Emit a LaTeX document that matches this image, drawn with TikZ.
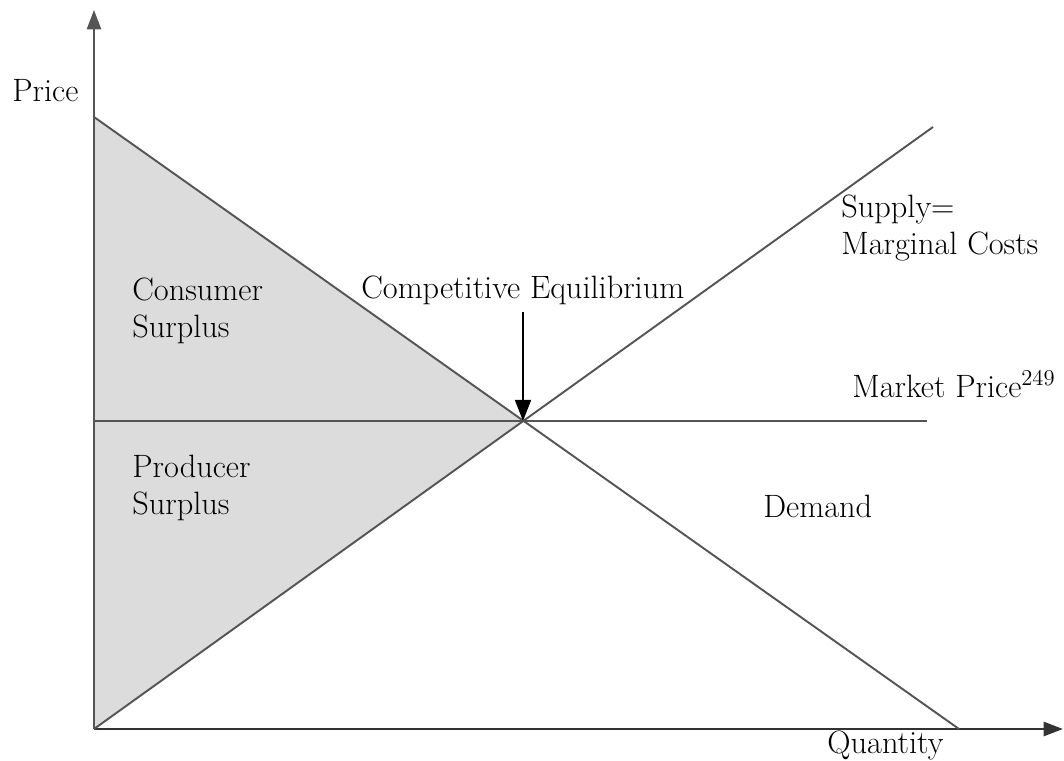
\documentclass[tikz,border=0pt]{standalone}
\usepackage{tikz}
\usetikzlibrary{arrows.meta}
\definecolor{surplusgray}{RGB}{220,220,220}
\definecolor{linegray}{RGB}{85,85,85}
\newcommand{\twolines}[2]{\begin{tabular}[t]{@{}l@{}}#1\\#2\end{tabular}}
\tikzset{every edge/.style={draw,linegray,line width=1.1pt}}
\tikzstyle{axis}=[draw=linegray,line width=1.4pt,-{Triangle[length=11pt,width=8pt]}]
\tikzstyle{label}=[inner sep=0pt,anchor=base west,font=\fontsize{18.4}{21.6}\selectfont]
\tikzstyle{pointer}=[draw=black,line width=1.4pt,-{Triangle[length=12pt,width=9pt]}]

\begin{document}
\begin{tikzpicture}[x=0.02cm,y=-0.02cm]
		\useasboundingbox (0,0) rectangle (1064,760);
		\coordinate (O) at (94,729);
		\coordinate (Ytip) at (94,10);
		\coordinate (Xtip) at (1063,729);
		\coordinate (D1) at (94,117);
		\coordinate (D2) at (959,729);
		\coordinate (S2) at (933,127);
		\coordinate (E) at (523,421);
		\coordinate (P0) at (94,421);
		\coordinate (P1) at (927,421);
		\coordinate (ctop) at (523,312);
		\fill [surplusgray] (D1) -- (E) -- (O) -- cycle;
		\draw [axis] (O) -- (Ytip);
		\draw [axis,draw=black!80] (O) -- (Xtip);
		\draw (D1) edge (D2);
		\draw (O) edge (S2);
		\draw (P0) edge (E);
		\draw (E) edge [line width=1.5pt] (P1);
		\node at (12,102) [label] (price) {Price};
		\node at (827,753) [label] (qty) {Quantity};
		\node at (132,300) [label] (cs) {\twolines{Consumer}{Surplus}};
		\node at (132,477) [label] (ps) {\twolines{Producer}{Surplus}};
		\node at (361,298) [label] (ce) {Competitive Equilibrium};
		\node at (841,217) [label] (supply) {\twolines{Supply=}{Marginal Costs}};
		\node at (852,397) [label] (mp) {Market Price\textsuperscript{249}};
		\node at (763,517) [label] (dem) {Demand};
		\draw [pointer] (ctop) -- (E);
		\end{tikzpicture}
\end{document}
